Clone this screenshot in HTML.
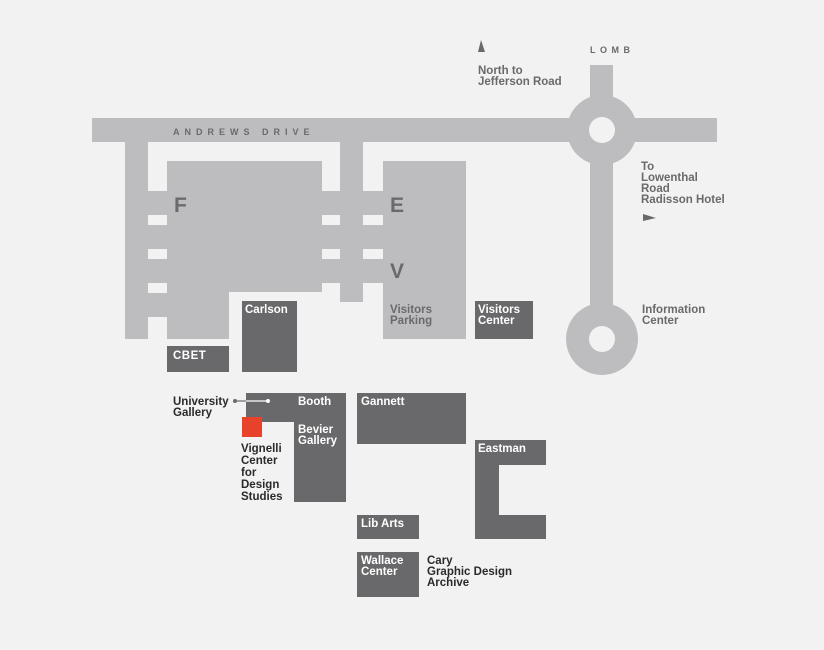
<!DOCTYPE html>
<html><head><meta charset="utf-8"><style>
html,body{margin:0;padding:0;background:#f2f2f2;}
svg{display:block;}
text{font-family:"Liberation Sans",sans-serif;font-weight:bold;font-size:11.5px;}
.w{fill:#fff;}
.g{fill:#6a6a6c;}
.k{fill:#2a2a2a;}
</style></head><body>
<svg width="824" height="650" viewBox="0 0 824 650" xmlns="http://www.w3.org/2000/svg">
<rect width="824" height="650" fill="#f2f2f2"/>
<g fill="#bdbdc0">
<rect x="92" y="118" width="625" height="24"/>
<rect x="125" y="142" width="42" height="197"/>
<rect x="167" y="161" width="155" height="131"/>
<rect x="167" y="292" width="62" height="47"/>
<rect x="322" y="142" width="61" height="141"/>
<rect x="340" y="142" width="23" height="160"/>
<rect x="383" y="161" width="83" height="178"/>
<rect x="590" y="65" width="23" height="285"/>
<circle cx="602" cy="130" r="35"/>
<circle cx="602" cy="339" r="36"/>
</g>
<g fill="#f2f2f2">
<rect x="148" y="142" width="19" height="49"/>
<rect x="148" y="215" width="19" height="10"/>
<rect x="148" y="249" width="19" height="10"/>
<rect x="148" y="283" width="19" height="10"/>
<rect x="148" y="317" width="19" height="22"/>
<rect x="322" y="142" width="18" height="49"/>
<rect x="363" y="142" width="20" height="49"/>
<rect x="322" y="215" width="18" height="10"/>
<rect x="363" y="215" width="20" height="10"/>
<rect x="322" y="249" width="18" height="10"/>
<rect x="363" y="249" width="20" height="10"/>
<rect x="322" y="283" width="18" height="10"/>
<rect x="363" y="283" width="20" height="20"/>
<circle cx="602" cy="130" r="13"/>
<circle cx="602" cy="339" r="13"/>
</g>
<g fill="#69696b">
<rect x="242" y="301" width="55" height="71"/>
<rect x="167" y="346" width="62" height="26"/>
<rect x="475" y="301" width="58" height="38"/>
<rect x="246" y="393" width="100" height="29"/>
<rect x="294" y="393" width="52" height="109"/>
<rect x="357" y="393" width="109" height="51"/>
<rect x="475" y="440" width="71" height="25"/>
<rect x="475" y="440" width="24" height="99"/>
<rect x="475" y="515" width="71" height="24"/>
<rect x="357" y="515" width="62" height="24"/>
<rect x="357" y="552" width="62" height="45"/>
</g>
<rect x="242" y="417" width="20" height="20" fill="#e8432a"/>
<line x1="235" y1="401" x2="268" y2="401" stroke="#fff" stroke-width="1.2"/>
<line x1="235" y1="401" x2="246" y2="401" stroke="#69696b" stroke-width="1.2"/>
<circle cx="235" cy="401" r="2" fill="#69696b"/>
<circle cx="268" cy="401" r="2" fill="#fff"/>
<polygon points="481,40 478,52 485,52" fill="#69696b"/>
<polygon points="643,214 643,221 656,218" fill="#69696b"/>
<text x="173" y="135" class="g" style="font-size:9px;letter-spacing:5px">ANDREWS DRIVE</text>
<text x="590" y="53" class="g" style="font-size:9px;letter-spacing:4.5px">LOMB</text>
<text x="174" y="212" class="g" style="font-size:21px">F</text>
<text x="390" y="212" class="g" style="font-size:21px">E</text>
<text x="390" y="278" class="g" style="font-size:21px">V</text>
<text class="g"><tspan x="390" y="313">Visitors</tspan><tspan x="390" y="324">Parking</tspan></text>
<text x="245" y="313" class="w">Carlson</text>
<text x="173" y="359" class="w" style="letter-spacing:0.5px">CBET</text>
<text class="w"><tspan x="478" y="313">Visitors</tspan><tspan x="478" y="324">Center</tspan></text>
<text class="g"><tspan x="478" y="74">North to</tspan><tspan x="478" y="85">Jefferson Road</tspan></text>
<text class="g"><tspan x="641" y="170">To</tspan><tspan x="641" y="181">Lowenthal</tspan><tspan x="641" y="192">Road</tspan><tspan x="641" y="203">Radisson Hotel</tspan></text>
<text class="g"><tspan x="642" y="313">Information</tspan><tspan x="642" y="324">Center</tspan></text>
<text class="k"><tspan x="173" y="405">University</tspan><tspan x="173" y="416">Gallery</tspan></text>
<text x="298" y="405" class="w">Booth</text>
<text class="w"><tspan x="298" y="433">Bevier</tspan><tspan x="298" y="444">Gallery</tspan></text>
<text class="k"><tspan x="241" y="452">Vignelli</tspan><tspan x="241" y="464">Center</tspan><tspan x="241" y="476">for</tspan><tspan x="241" y="488">Design</tspan><tspan x="241" y="500">Studies</tspan></text>
<text x="361" y="405" class="w">Gannett</text>
<text x="478" y="452" class="w">Eastman</text>
<text x="361" y="527" class="w">Lib Arts</text>
<text class="w"><tspan x="361" y="564">Wallace</tspan><tspan x="361" y="575">Center</tspan></text>
<text class="k"><tspan x="427" y="564">Cary</tspan><tspan x="427" y="575">Graphic Design</tspan><tspan x="427" y="586">Archive</tspan></text>
</svg>
</body></html>
